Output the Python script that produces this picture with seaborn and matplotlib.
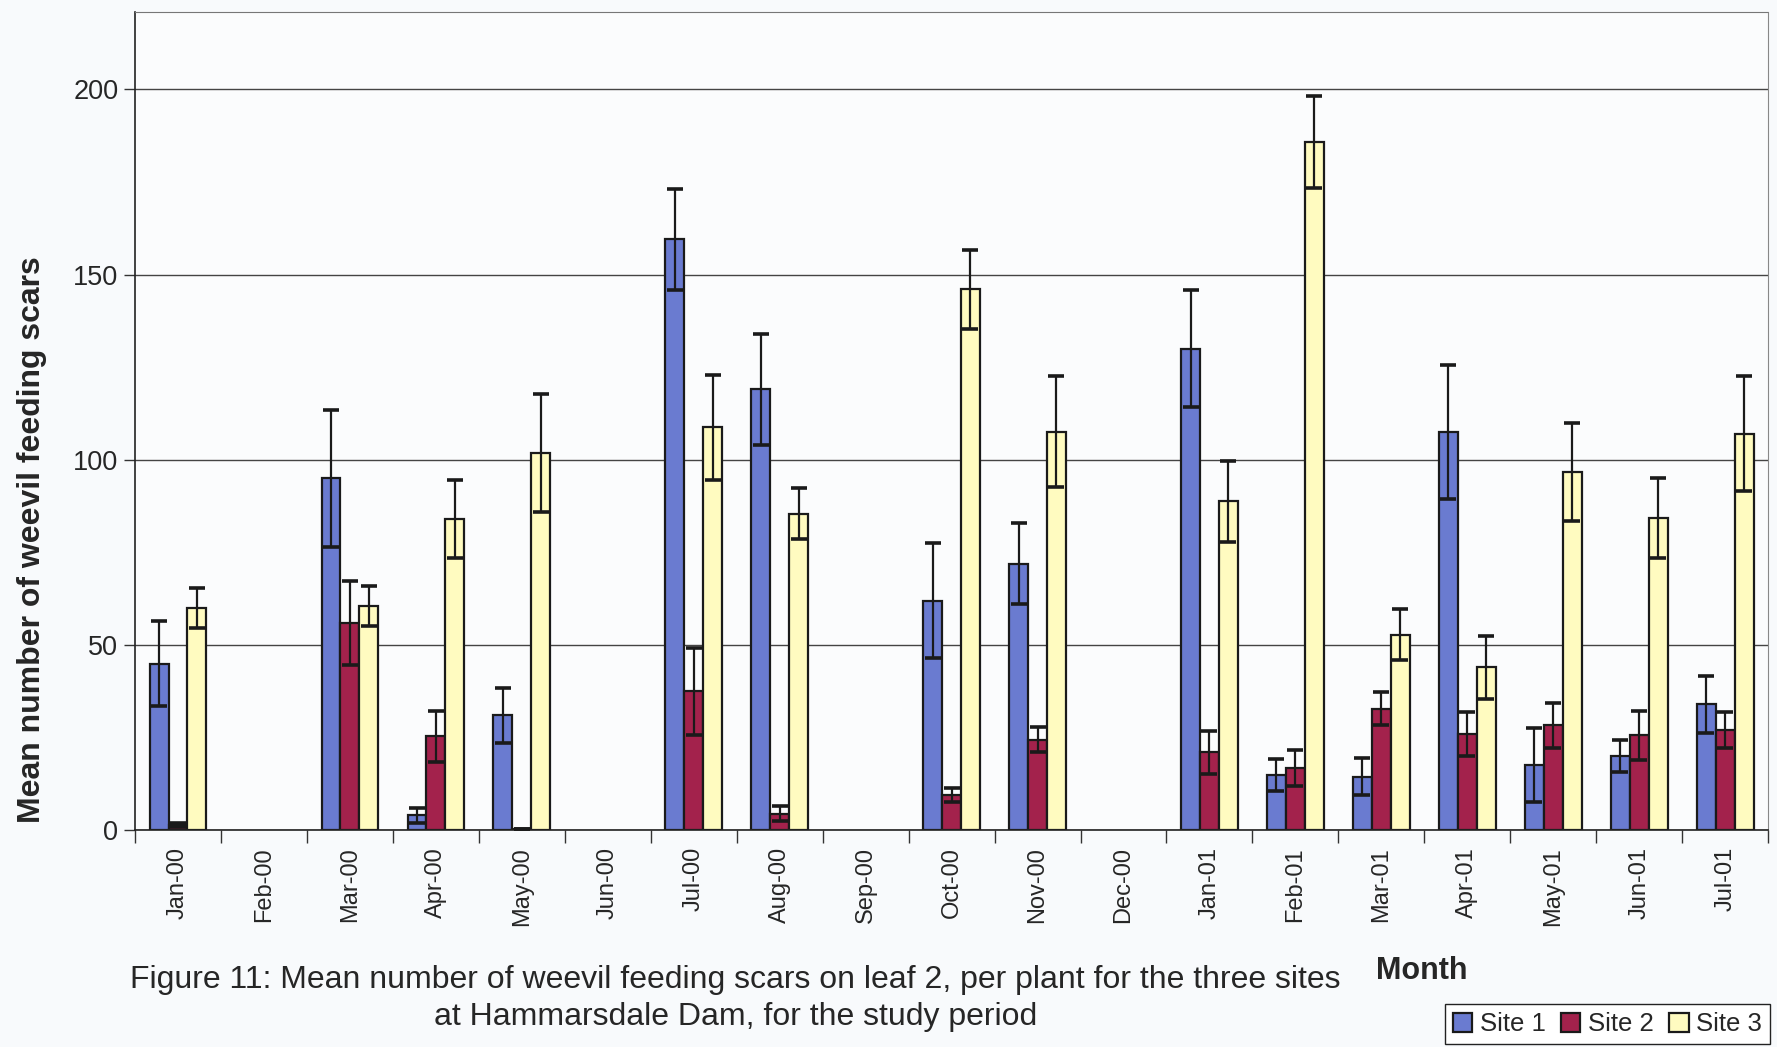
import numpy as np
import pandas as pd
import seaborn as sns
import matplotlib.pyplot as plt
from matplotlib.ticker import FixedLocator

nan = np.nan

# data
months = ['Jan-00', 'Feb-00', 'Mar-00', 'Apr-00', 'May-00', 'Jun-00', 'Jul-00',
          'Aug-00', 'Sep-00', 'Oct-00', 'Nov-00', 'Dec-00', 'Jan-01', 'Feb-01',
          'Mar-01', 'Apr-01', 'May-01', 'Jun-01', 'Jul-01']
sites = ['Site 1', 'Site 2', 'Site 3']

site1 = [45, nan, 95, 4, 31, nan, 159.5, 119, nan, 62, 72, nan, 130, 15, 14.5, 107.5, 17.5, 20, 34]
site1_err = [11.5, nan, 18.5, 2, 7.4, nan, 13.7, 15, nan, 15.5, 11, nan, 15.7, 4.3, 5, 18, 10, 4.4, 7.7]
site2 = [1.5, nan, 56, 25.4, 0.3, nan, 37.5, 4.5, nan, 9.5, 24.5, nan, 21, 16.8, 32.8, 26, 28.3, 25.6, 27]
site2_err = [0.5, nan, 11.4, 6.9, 0, nan, 11.8, 2, nan, 2, 3.5, nan, 5.9, 4.8, 4.4, 6, 6, 6.7, 4.9]
site3 = [60, nan, 60.5, 84, 101.8, nan, 108.8, 85.5, nan, 146, 107.6, nan, 88.8, 185.8, 52.8, 44, 96.7, 84.3, 107]
site3_err = [5.3, nan, 5.3, 10.6, 16, nan, 14.2, 7, nan, 10.7, 15, nan, 11, 12.5, 6.8, 8.5, 13.3, 10.7, 15.5]

colors = ['#6a7bd0', '#a3224c', '#fffbc0']

df = pd.DataFrame({
    'Month': months * 3,
    'Site': [s for s in sites for _ in months],
    'Value': site1 + site2 + site3,
    'Err': site1_err + site2_err + site3_err,
})

sns.set_style('white')
plt.rcParams['font.family'] = ['Liberation Sans', 'DejaVu Sans']

fig = plt.figure(figsize=(17.77, 10.47), dpi=100)
fig.patch.set_facecolor('#f8fafc')
ax = fig.add_axes([0.076, 0.207, 0.919, 0.782])
ax.set_facecolor('#fbfcfd')

sns.barplot(data=df.dropna(subset=['Value']), x='Month', y='Value', hue='Site',
            order=months, hue_order=sites, palette=colors, saturation=1, width=0.66,
            edgecolor='#1a1a1a', linewidth=1.6, errorbar=None, legend=True, ax=ax)

# error bars at the bar centres
bar_sets = list(ax.containers)[:3]
for k, cont in enumerate(bar_sets):
    errs = df[df['Site'] == sites[k]].set_index('Month')['Err']
    for bar in cont:
        xc = bar.get_x() + bar.get_width() / 2
        m = months[int(round(xc))]
        ax.errorbar(xc, bar.get_height(), yerr=errs[m], fmt='none', ecolor='#1a1a1a',
                    elinewidth=1.6, capsize=5.5, capthick=2.6, zorder=5)

ax.set_ylim(0, 221)
ax.set_xlim(-0.5, len(months) - 0.5)
ax.set_yticks([0, 50, 100, 150, 200])
ax.yaxis.grid(True, color='#444444', linewidth=1.0)
ax.set_axisbelow(True)
ax.tick_params(axis='y', labelsize=19.5, length=8, width=1, color='#333333', pad=4, left=True)
ax.tick_params(axis='x', which='major', labelsize=17, length=0, pad=12, labelrotation=90)
ax.xaxis.set_minor_locator(FixedLocator(np.arange(-0.5, len(months), 1)))
ax.tick_params(axis='x', which='minor', length=9, width=1, color='#333333', bottom=True)

for s in ['left', 'bottom']:
    ax.spines[s].set_color('#222222')
    ax.spines[s].set_linewidth(1.2)
ax.spines['top'].set_color('#777777')
ax.spines['top'].set_linestyle((0, (2, 1)))
ax.spines['right'].set_color('#888888')

ax.set_xlabel('')
ax.set_ylabel('Mean number of weevil feeding scars', fontsize=23, fontweight='bold')
ax.yaxis.set_label_coords(-0.054, 0.355)

handles, labels = ax.get_legend_handles_labels()
ax.get_legend().remove()
fig.legend(handles, labels, loc='lower right', bbox_to_anchor=(0.996, 0.003), ncol=3,
           fontsize=18.5, frameon=True, fancybox=False, edgecolor='#222222',
           handlelength=0.75, handleheight=0.75, handletextpad=0.3, columnspacing=0.6,
           borderpad=0.3, borderaxespad=0, framealpha=1)

fig.text(0.8, 0.073, 'Month', fontsize=22, fontweight='bold', ha='center', va='center')
fig.text(0.414, 0.046,
         'Figure 11: Mean number of weevil feeding scars on leaf 2, per plant for the three sites\n'
         'at Hammarsdale Dam, for the study period',
         fontsize=23, ha='center', va='center', linespacing=1.3)

fig.savefig('out.png', dpi=100, facecolor=fig.get_facecolor())
